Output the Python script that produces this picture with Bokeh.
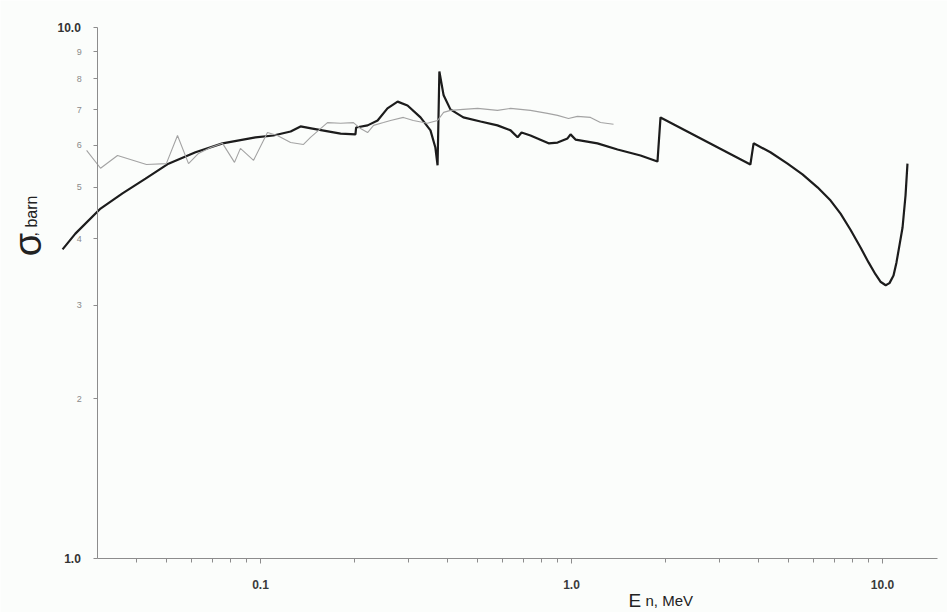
import math
from bokeh.plotting import figure
from bokeh.models import FixedTicker, Label
from bokeh.embed import file_html
from bokeh.resources import INLINE

# ---- data ----
calc_energy = [0.0231, 0.0254, 0.0306, 0.0360, 0.0427, 0.0506, 0.0618, 0.0755, 0.0964,
               0.110, 0.125, 0.1345, 0.147, 0.181, 0.202, 0.203, 0.221, 0.238, 0.256,
               0.276, 0.297, 0.327, 0.352, 0.365, 0.371, 0.376, 0.388, 0.408, 0.449,
               0.510, 0.578, 0.637, 0.671, 0.691, 0.738, 0.844, 0.902, 0.971, 0.993,
               1.030, 1.212, 1.406, 1.667, 1.890, 1.933, 3.76, 3.85, 4.36, 4.95, 5.53,
               6.18, 6.81, 7.33, 7.89, 8.50, 9.02, 9.49, 9.85, 10.24, 10.53, 10.85,
               11.09, 11.34, 11.60, 11.86, 12.03]
calc_sigma = [3.82, 4.09, 4.56, 4.87, 5.19, 5.54, 5.82, 6.05, 6.21,
              6.26, 6.37, 6.51, 6.45, 6.31, 6.29, 6.48, 6.54, 6.68, 7.04,
              7.25, 7.13, 6.77, 6.40, 5.94, 5.50, 8.26, 7.45, 7.01, 6.77,
              6.65, 6.54, 6.40, 6.21, 6.34, 6.26, 6.05, 6.07, 6.18, 6.29,
              6.15, 6.05, 5.89, 5.74, 5.59, 6.77, 5.52, 6.05, 5.82, 5.54, 5.29,
              5.00, 4.72, 4.46, 4.16, 3.85, 3.61, 3.43, 3.32, 3.27, 3.30, 3.41,
              3.61, 3.89, 4.20, 4.83, 5.54]

exp_energy = [0.0276, 0.0306, 0.0347, 0.0430, 0.0498, 0.0541, 0.0587, 0.0632, 0.0691,
              0.0755, 0.0825, 0.0862, 0.0950, 0.1053, 0.1133, 0.125, 0.1375, 0.1448,
              0.1642, 0.181, 0.199, 0.2097, 0.221, 0.231, 0.2486, 0.262, 0.288, 0.310,
              0.344, 0.371, 0.388, 0.408, 0.449, 0.499, 0.578, 0.637, 0.738, 0.837,
              0.902, 0.978, 1.045, 1.151, 1.239, 1.365]
exp_sigma = [5.87, 5.43, 5.74, 5.52, 5.54, 6.26, 5.54, 5.79, 5.94,
             6.05, 5.57, 5.92, 5.62, 6.34, 6.26, 6.07, 6.02, 6.21,
             6.62, 6.60, 6.62, 6.45, 6.34, 6.54, 6.62, 6.68, 6.77, 6.68,
             6.60, 6.68, 6.92, 6.98, 7.01, 7.04, 6.98, 7.04, 6.98, 6.89,
             6.83, 6.74, 6.80, 6.77, 6.62, 6.57]

x_tick_values = [0.1, 1.0, 10.0]
x_tick_labels = ["0.1", "1.0", "10.0"]
x_minor_ticks = [0.04, 0.05, 0.06, 0.07, 0.08, 0.09,
                 0.2, 0.3, 0.4, 0.5, 0.6, 0.7, 0.8, 0.9,
                 2, 3, 4, 5, 6, 7, 8, 9]
y_tick_values = [1, 2, 3, 4, 5, 6, 7, 8, 9, 10]
y_tick_labels = ["1.0", "2", "3", "4", "5", "6", "7", "8", "9", "10.0"]
x_axis_span = (0.03, 15.0)
y_axis_span = (1.0, 10.0)

FONT = "Liberation Sans"
BG = "#fbfdfb"
AX = "#8c8c8c"

p = figure(width=947, height=612, x_axis_type="log", y_axis_type="log",
           x_range=(0.01459, 16.18), y_range=(0.791, 11.24),
           output_backend="svg", toolbar_location=None,
           min_border_left=0, min_border_right=0, min_border_top=0, min_border_bottom=0,
           background_fill_color=BG, border_fill_color=BG)
p.outline_line_color = None
p.grid.visible = False

p.line(calc_energy, calc_sigma, line_color="#1c1c1c", line_width=2.2)
p.line(exp_energy, exp_sigma, line_color="#a3a3a3", line_width=1.1)

# x axis (crosses at sigma = 1.0)
xa = p.xaxis[0]
xa.ticker = FixedTicker(ticks=x_tick_values, minor_ticks=x_minor_ticks)
xa.major_label_overrides = dict(zip(x_tick_values, x_tick_labels))
xa.fixed_location = y_axis_span[0]
xa.bounds = x_axis_span
xa.axis_line_color = AX
xa.major_tick_line_color = AX
xa.minor_tick_line_color = AX
xa.major_tick_in = 0
xa.major_tick_out = 5
xa.minor_tick_in = 0
xa.minor_tick_out = 4
xa.major_label_standoff = 17
xa.major_label_text_font = FONT
xa.major_label_text_font_size = "12px"
xa.major_label_text_font_style = "bold"
xa.major_label_text_color = "#3a3a3a"

# y axis (crosses at E = 0.03 MeV)
ya = p.yaxis[0]
ya.ticker = FixedTicker(ticks=y_tick_values, minor_ticks=[])
ya.major_label_overrides = {v: ("" if v in (1, 10) else t) for v, t in zip(y_tick_values, y_tick_labels)}
ya.fixed_location = x_axis_span[0]
ya.bounds = y_axis_span
ya.axis_line_color = AX
ya.major_tick_line_color = AX
ya.major_tick_in = 0
ya.major_tick_out = 4
ya.major_label_standoff = 12
ya.major_label_text_font = FONT
ya.major_label_text_font_size = "9px"
ya.major_label_text_color = "#8a8a8a"

for v, t in zip(y_tick_values, y_tick_labels):
    if v in (1, 10):
        p.add_layout(Label(x=x_axis_span[0], y=v, x_offset=-17, text=t, text_align="right",
                           text_baseline="middle", text_font=FONT, text_font_size="12px",
                           text_font_style="bold", text_color="#333333"))

# axis titles
p.add_layout(Label(x=0.01795, y=3.90, text="σ", angle=math.pi / 2, text_align="center",
                   text_baseline="alphabetic", text_font=FONT, text_font_size="38px",
                   text_color="#222222"))
p.add_layout(Label(x=0.0183, y=4.04, text=", barn", angle=math.pi / 2, text_align="left",
                   text_baseline="alphabetic", text_font=FONT, text_font_size="16px",
                   text_color="#222222"))
p.add_layout(Label(x=1.525, y=0.834, text="E", text_align="left", text_baseline="alphabetic",
                   text_font=FONT, text_font_size="19px", text_color="#222222"))
p.add_layout(Label(x=1.729, y=0.834, text="n, MeV", text_align="left", text_baseline="alphabetic",
                   text_font=FONT, text_font_size="15px", text_color="#222222"))

open("out.html", "w").write(file_html(p, INLINE))
